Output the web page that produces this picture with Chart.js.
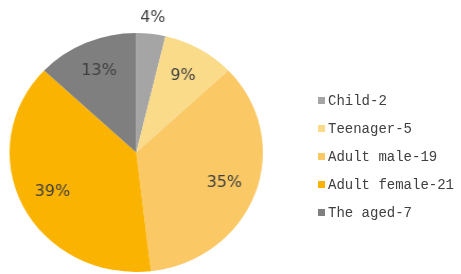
<!DOCTYPE html>
<html>
<head>
<meta charset="utf-8">
<script src="https://cdn.jsdelivr.net/npm/chart.js@4/dist/chart.umd.min.js"></script>
<style>
  html, body { margin:0; padding:0; background:#fff; }
  body { width:461px; height:274px; position:relative; overflow:hidden; }
  /* the source picture is a bit wider than tall, so stretch the pie box */
  #wrap { position:absolute; left:0; top:0; width:435px; height:274px;
          transform:scaleX(1.06); transform-origin:0 0; }
  #legend { position:absolute; left:318px; top:90px; margin:0; padding:0; list-style:none;
            font-family:"Liberation Mono", monospace; font-size:14px; color:#404040; }
  #legend li { height:28px; line-height:22px; white-space:nowrap; }
  #legend i { display:inline-block; width:7px; height:7px; margin-right:3px; vertical-align:1px; }
</style>
</head>
<body>
<div id="wrap"><canvas id="chart"></canvas></div>
<ul id="legend"></ul>
<script>
'use strict';

// ===== data =====
const CATEGORIES = ["Child", "Teenager", "Adult male", "Adult female", "The aged"];
const COUNTS = [2, 5, 19, 21, 7];
const COLORS = ["#a5a5a5", "#f9db8a", "#fac864", "#fab300", "#7f7f7f"];

// ===== legend (html) =====
const elLegend = document.getElementById('legend');
CATEGORIES.forEach((name, i) => {
  const li = document.createElement('li');
  li.innerHTML = `<i style="background:${COLORS[i]}"></i>${name}-${COUNTS[i]}`;
  elLegend.appendChild(li);
});

// ===== percentage labels on slices =====
const pctLabels = {
  id: 'pctLabels',
  afterDatasetsDraw(chart){
    const ctx = chart.ctx;
    const meta = chart.getDatasetMeta(0);
    const total = COUNTS.reduce((a, b) => a + b, 0);
    ctx.save();
    ctx.font = '15px "DejaVu Sans", sans-serif';
    ctx.fillStyle = '#404040';
    ctx.textAlign = 'center';
    ctx.textBaseline = 'middle';
    meta.data.forEach((arc, i) => {
      const p = arc.getProps(['x','y','startAngle','endAngle','outerRadius'], true);
      const share = COUNTS[i] / total;
      const mid = (p.startAngle + p.endAngle) / 2;
      // tiny slices get their label outside
      const r = share < 0.05 ? p.outerRadius * 1.13 : p.outerRadius * 0.74;
      const x = p.x + Math.cos(mid) * r;
      const y = p.y + Math.sin(mid) * r;
      ctx.fillText(Math.round(share * 100) + '%', x, y);
    });
    ctx.restore();
  }
};

new Chart(document.getElementById('chart'), {
  type: 'pie',
  data: {
    labels: CATEGORIES,
    datasets: [{
      data: COUNTS,
      backgroundColor: COLORS,
      borderWidth: 0
    }]
  },
  options: {
    responsive: true,
    maintainAspectRatio: false,
    animation: false,
    layout: { padding: { left: 9, right: 187, top: 33, bottom: 2 } },
    plugins: {
      legend: { display: false },
      tooltip: { enabled: false }
    }
  },
  plugins: [pctLabels]
});
</script>
</body>
</html>
